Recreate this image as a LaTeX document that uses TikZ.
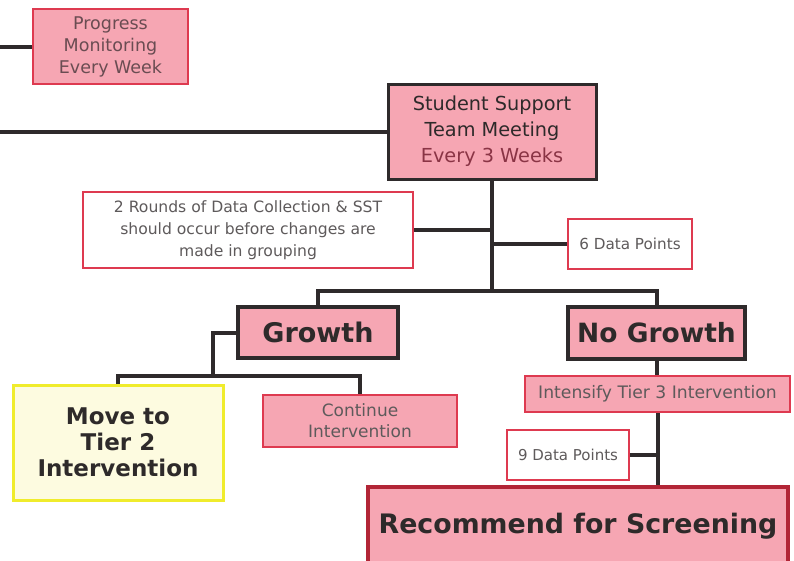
\documentclass[tikz,border=0pt]{standalone}
\usepackage{fontspec}
\setmainfont{DejaVu Sans}
\definecolor{pinkfill}{HTML}{F6A6B3}
\definecolor{redline}{HTML}{DE3A50}
\definecolor{darkline}{HTML}{2E2A2B}
\definecolor{recline}{HTML}{B22536}
\definecolor{yelline}{HTML}{F0EC2C}
\definecolor{yelfill}{HTML}{FDFBE0}
\definecolor{txtdark}{HTML}{2E2A2A}
\definecolor{txtlight}{HTML}{5E5A5B}
\definecolor{txtmaroon}{HTML}{8A3445}
\definecolor{txtpm}{HTML}{6A4C52}
\tikzset{
  box/.style={draw, rectangle, inner sep=0pt, align=center},
  pinkbox/.style={box, fill=pinkfill, draw=redline, line width=2pt, text=txtlight},
  whitebox/.style={box, fill=white, draw=redline, line width=2pt, text=txtlight},
  darkbox/.style={box, fill=pinkfill, draw=darkline, line width=3.5pt, text=txtdark},
  conn/.style={draw=darkline, line width=4pt},
}
\begin{document}
\begin{tikzpicture}[x=1pt,y=-1pt]
\useasboundingbox (0,0) rectangle (794,560);
\fill[white] (0,0) rectangle (794,560);

% nodes
\node[pinkbox, text=txtpm, minimum width=155pt, minimum height=75pt,
  font=\fontsize{17.5}{22}\selectfont] (pm) at (110.5,46.5) {Progress\\Monitoring\\Every Week};
\node[darkbox, line width=3pt, minimum width=208pt, minimum height=95pt,
  font=\fontsize{19.3}{26}\selectfont] (sst) at (492,131.5)
  {Student Support\\Team Meeting\\\textcolor{txtmaroon}{Every 3 Weeks}};
\node[whitebox, minimum width=330pt, minimum height=76pt,
  font=\fontsize{15.6}{22}\selectfont] (rounds) at (248,230)
  {2 Rounds of Data Collection \& SST\\should occur before changes are\\made in grouping};
\node[whitebox, minimum width=124pt, minimum height=50pt,
  font=\fontsize{15.2}{18}\selectfont] (dp6) at (630,244) {6 Data Points};
\node[darkbox, minimum width=160pt, minimum height=51pt,
  font=\fontsize{27}{30}\selectfont\bfseries] (growth) at (318,332.5) {Growth};
\node[darkbox, minimum width=177pt, minimum height=52pt,
  font=\fontsize{26.5}{30}\selectfont\bfseries] (nogrowth) at (656.5,333) {No Growth};
\node[box, fill=yelfill, draw=yelline, line width=3pt, text=txtdark,
  minimum width=210pt, minimum height=115pt,
  font=\fontsize{23}{26}\selectfont\bfseries] (move) at (118,442.5)
  {Move to\\Tier 2\\Intervention};
\node[pinkbox, minimum width=194pt, minimum height=52pt,
  font=\fontsize{17}{21}\selectfont] (cont) at (360,421) {Continue\\Intervention};
\node[pinkbox, minimum width=265pt, minimum height=36pt,
  font=\fontsize{17.2}{20}\selectfont] (intens) at (657.5,394) {Intensify Tier 3 Intervention};
\node[whitebox, minimum width=122pt, minimum height=50pt,
  font=\fontsize{15}{18}\selectfont] (dp9) at (568,455) {9 Data Points};
\node[box, fill=pinkfill, draw=recline, line width=3.5pt, text=txtdark,
  minimum width=420pt, minimum height=79pt,
  font=\fontsize{26.8}{30}\selectfont\bfseries] (rec) at (578,526.5) {Recommend for Screening};

% free ends and junctions
\coordinate (pmend) at (0,46.5);
\coordinate (sstend) at (0,131.5);
\coordinate (gj) at (213,377);

% connectors
\draw[conn] (pmend) -- (pm.west);
\draw[conn] (sstend) -- (sst.west);
\draw[conn] (sst.south) -- (sst.south |- 0,293);
\draw[conn] (rounds.east) -- (sst.south |- rounds.east);
\draw[conn] (dp6.west) -- (sst.south |- dp6.west);
\draw[conn] (growth.north) -- ++(0,-14) -| (nogrowth.north);
\draw[conn] (growth.west) -| (gj);
\draw[conn] (move.north) -- ++(0,-8) -| (cont.north);
\draw[conn] (nogrowth.south) -- (nogrowth.south |- intens.north);
\draw[conn] (intens.south) -- (intens.south |- rec.north);
\draw[conn] (dp9.east) -- (intens.south |- dp9.east);
\end{tikzpicture}
\end{document}
